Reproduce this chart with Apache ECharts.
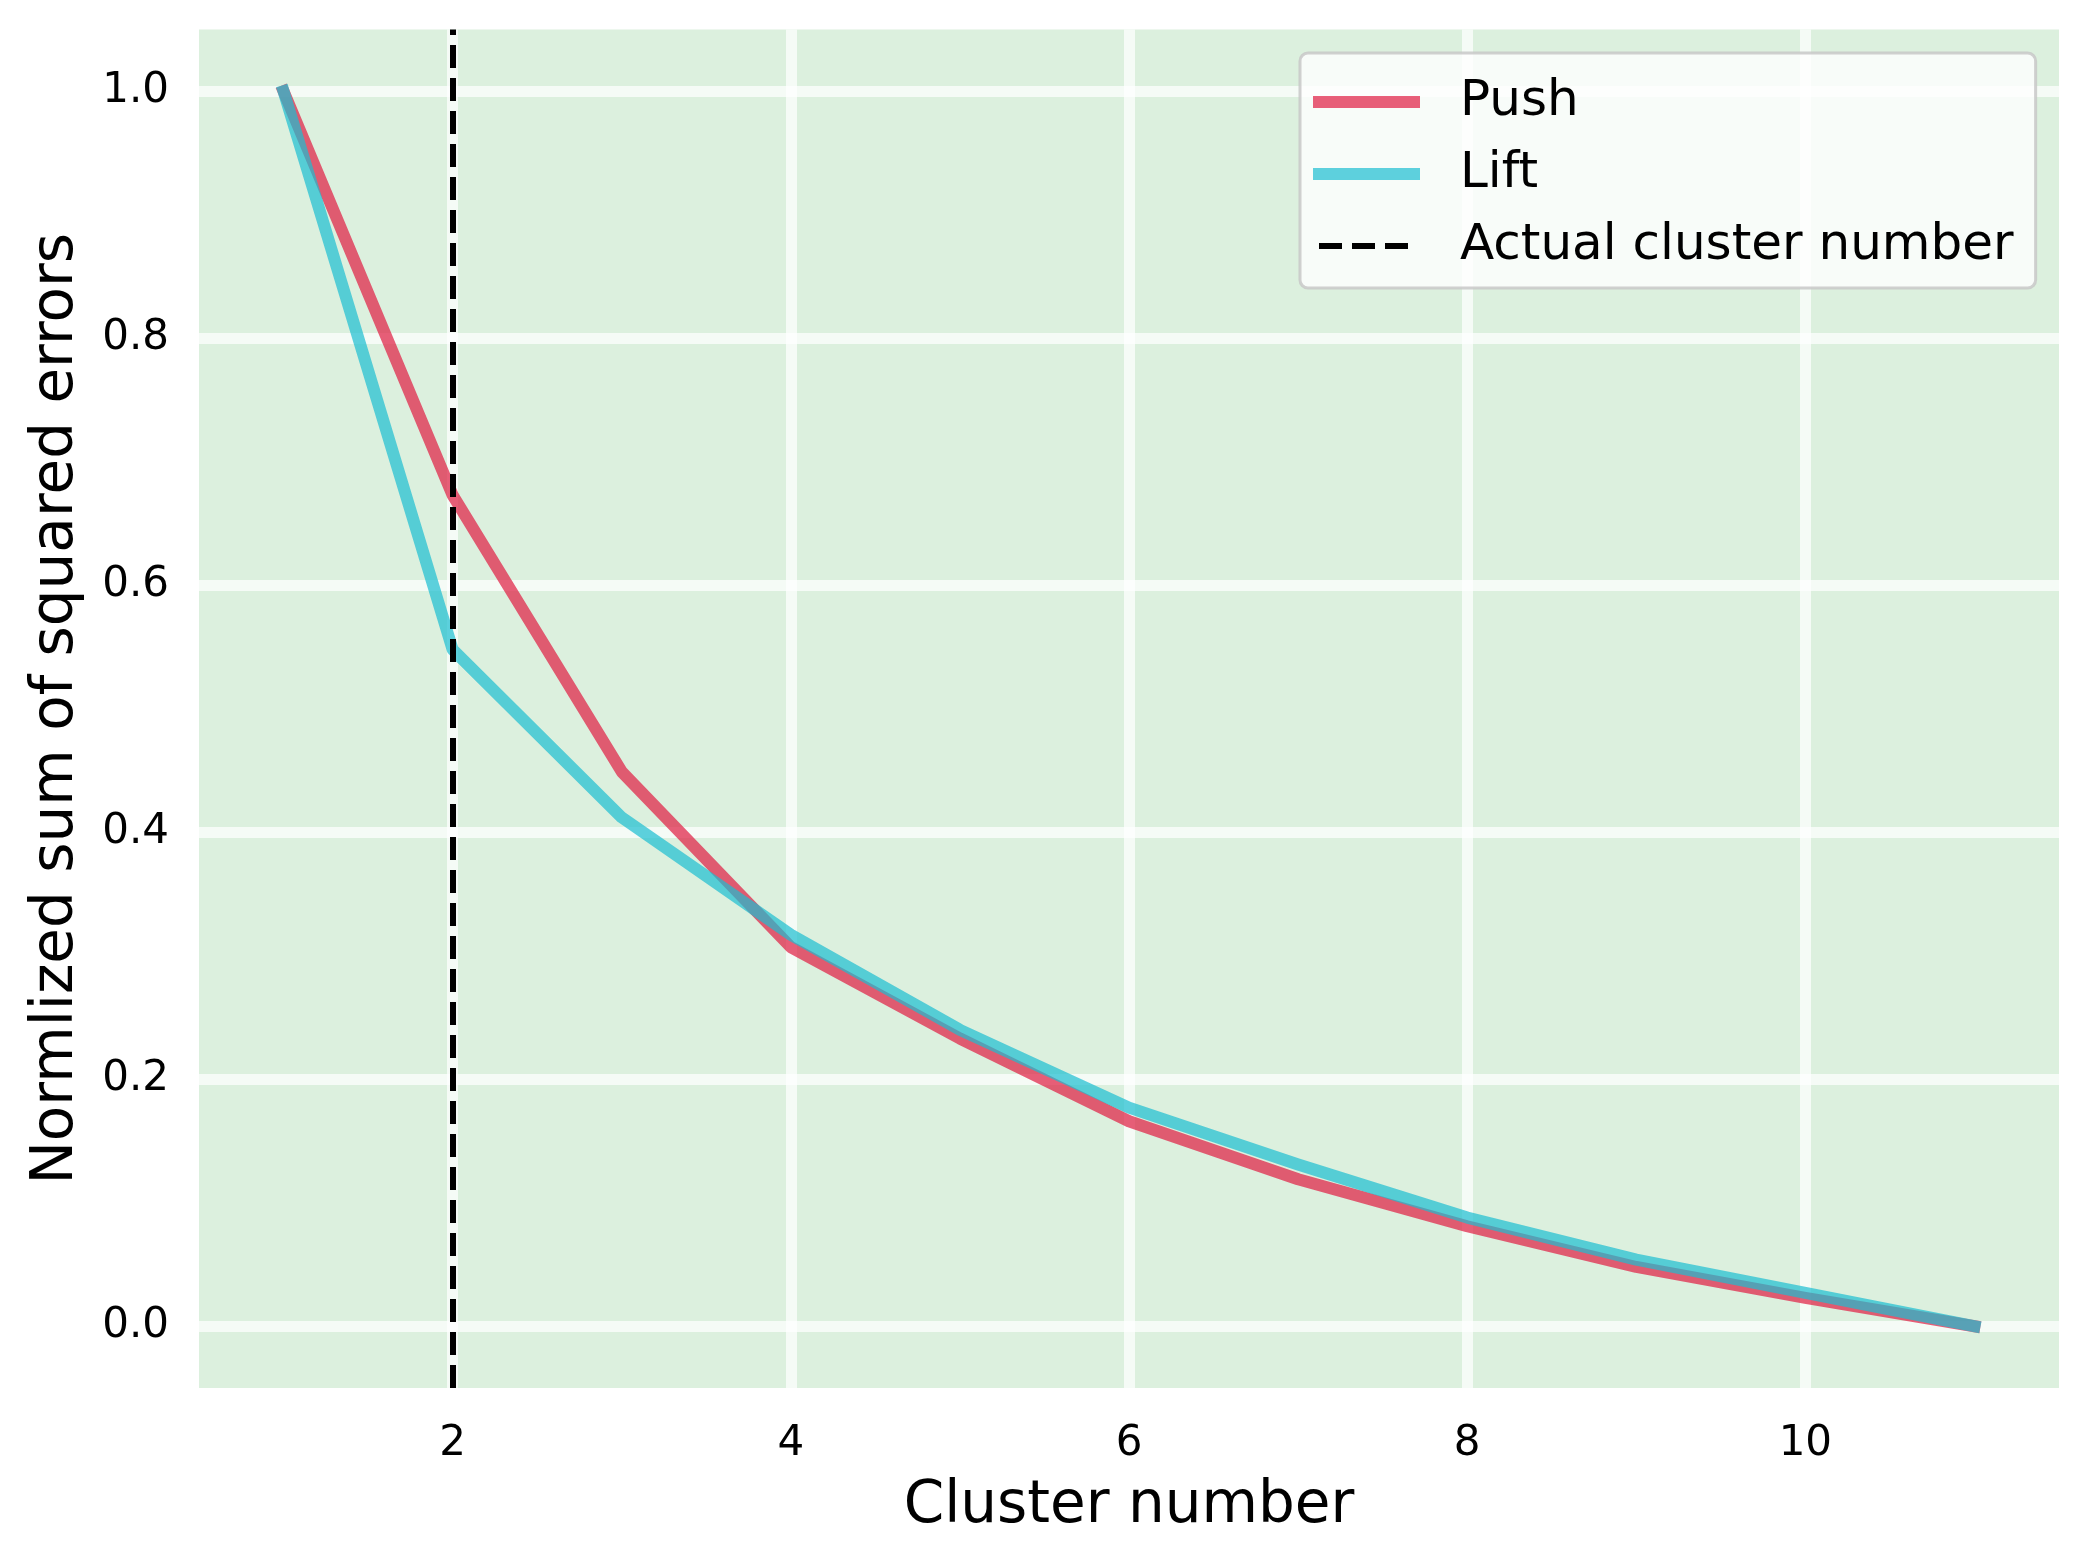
<!DOCTYPE html>
<html>
<head>
<meta charset="utf-8">
<script src="https://cdn.jsdelivr.net/npm/echarts@6/dist/echarts.min.js"></script>
<style>
  html, body { margin: 0; padding: 0; background: #ffffff; }
  #chart { width: 2089px; height: 1563px; }
</style>
</head>
<body>
<div id="chart"></div>
<script>
// ---- data ----
const clusterNumbers = [1, 2, 3, 4, 5, 6, 7, 8, 9, 10, 11];
const pushValues = [1.0, 0.673, 0.449, 0.307, 0.233, 0.166, 0.119, 0.081, 0.048, 0.023, 0.0];
const liftValues = [1.0, 0.548, 0.412, 0.317, 0.240, 0.177, 0.131, 0.088, 0.054, 0.027, 0.0];
const actualClusterNumber = 2;
const xTickValues = [2, 4, 6, 8, 10];
const yTickValues = [0.0, 0.2, 0.4, 0.6, 0.8, 1.0];
const seriesNames = ['Push', 'Lift', 'Actual cluster number'];
const xLabel = 'Cluster number';
const yLabel = 'Normlized sum of squared errors';

const FONT = 'DejaVu Sans';
const chart = echarts.init(document.getElementById('chart'), null, { renderer: 'canvas' });

const toPairs = (xs, ys) => xs.map((x, i) => [x, ys[i]]);

const gridLine = { show: true, lineStyle: { color: 'rgba(255,255,255,0.72)', width: 11 } };

const option = {
  backgroundColor: '#ffffff',
  animation: false,
  grid: {
    left: 199, right: 30, top: 29.5, bottom: 175,
    show: true, backgroundColor: 'rgb(220,240,222)', borderWidth: 0
  },
  legend: {
    orient: 'vertical',
    left: 1300, top: 53,
    padding: [24, 22, 17, 13],
    backgroundColor: 'rgba(255,255,255,0.8)',
    borderColor: 'rgba(200,200,200,0.85)',
    borderWidth: 3,
    borderRadius: 8,
    itemWidth: 95,
    itemHeight: 14,
    itemGap: 22,
    itemStyle: { opacity: 0 },
    lineStyle: { width: 12 },
    data: [
      { name: seriesNames[0] },
      { name: seriesNames[1] },
      { name: seriesNames[2], lineStyle: { width: 6 } }
    ],
    textStyle: {
      fontFamily: FONT, fontSize: 50, color: '#000', lineHeight: 50,
      padding: [0, 0, 0, 41]
    }
  },
  xAxis: {
    type: 'value',
    min: 0.5, max: 11.5,
    name: xLabel,
    nameLocation: 'middle',
    nameGap: 90,
    nameTextStyle: { fontFamily: FONT, fontSize: 58, color: '#000' },
    axisLine: { show: false },
    axisTick: { show: false, customValues: xTickValues },
    axisLabel: {
      customValues: xTickValues,
      fontFamily: FONT, fontSize: 42, color: '#000', margin: 35
    },
    splitLine: gridLine
  },
  yAxis: {
    type: 'value',
    min: -0.05, max: 1.05,
    name: yLabel,
    nameLocation: 'middle',
    nameRotate: 90,
    nameGap: 113,
    nameTextStyle: { fontFamily: FONT, fontSize: 58, color: '#000' },
    axisLine: { show: false },
    axisTick: { show: false, customValues: yTickValues },
    axisLabel: {
      customValues: yTickValues,
      formatter: v => v.toFixed(1),
      fontFamily: FONT, fontSize: 42, color: '#000', margin: 30
    },
    splitLine: gridLine
  },
  series: [
    {
      name: seriesNames[0],
      type: 'line',
      data: toPairs(clusterNumbers, pushValues),
      symbol: 'none',
      color: 'rgb(224,27,65)',
      lineStyle: { color: 'rgb(224,27,65)', width: 12, opacity: 0.7, cap: 'square', join: 'round' },
      z: 3
    },
    {
      name: seriesNames[1],
      type: 'line',
      data: toPairs(clusterNumbers, liftValues),
      symbol: 'none',
      color: 'rgb(27,190,209)',
      lineStyle: { color: 'rgb(27,190,209)', width: 12, opacity: 0.7, cap: 'square', join: 'round' },
      z: 4
    },
    {
      name: seriesNames[2],
      type: 'line',
      data: [],
      symbol: 'none',
      color: '#000',
      lineStyle: { color: '#000', width: 6, type: [23, 10] },
      z: 5,
      markLine: {
        silent: true,
        symbol: ['none', 'none'],
        label: { show: false },
        lineStyle: { color: '#000', width: 6, type: [23, 10], opacity: 1 },
        emphasis: { disabled: true },
        data: [{ xAxis: actualClusterNumber }]
      }
    }
  ]
};

chart.setOption(option);
</script>
</body>
</html>
